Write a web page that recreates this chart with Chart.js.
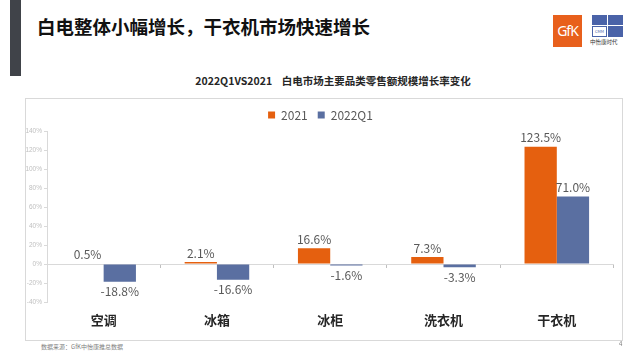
<!DOCTYPE html>
<html>
<head>
<meta charset="utf-8">
<script src="https://cdn.jsdelivr.net/npm/chart.js@4"></script>
<style>
  body { margin: 0; width: 641px; height: 361px; background: #fff; position: relative; overflow: hidden;
         font-family: "Noto Sans CJK SC", "Noto Sans", sans-serif; }
  .bar-left { position: absolute; left: 10px; top: 0; width: 11px; height: 76px; background: #404349; }
  .title { position: absolute; left: 37px; top: 13px; font-size: 18.5px; font-weight: bold; color: #111; white-space: nowrap; }
  .gfk { position: absolute; left: 553px; top: 15px; width: 29px; height: 32px; background: #e8601c; color: #fff;
         font: 14px "Noto Sans", sans-serif; line-height: 32px; text-align: center; letter-spacing: -1px; }
  .cmm { position: absolute; left: 592px; top: 15px; width: 31px; height: 22px; }
  .cmm div { position: absolute; background: #4a63a8; }
  .cmm-txt { position: absolute; left: 590px; top: 38px; font-size: 5.5px; color: #333; white-space: nowrap; }
  .sub { position: absolute; left: 0; width: 666px; top: 73px; text-align: center; font-size: 10.5px; font-weight: bold; color: #262626; white-space: pre; }
  .box { position: absolute; left: 25px; top: 98px; width: 596px; height: 241px; border: 1px solid #d9d9d9; }
  .src { position: absolute; left: 41px; top: 342px; font-size: 6px; color: #7f7f7f; white-space: nowrap; }
  .pg { position: absolute; left: 619px; top: 339px; font-size: 6px; color: #7f7f7f; }
</style>
</head>
<body>
<div class="bar-left"></div>
<div class="title">白电整体小幅增长，干衣机市场快速增长</div>
<div class="gfk">GfK</div>
<div class="cmm">
  <div style="left:0;top:0;width:15px;height:10px"></div>
  <div style="left:16px;top:0;width:15px;height:10px"></div>
  <div style="left:16px;top:11px;width:15px;height:11px"></div>
  <div style="left:0;top:11px;width:15px;height:11px;background:#fff;border:1px solid #4a63a8;box-sizing:border-box;font-size:4px;color:#4a63a8;line-height:9px;text-align:center">CMM</div>
</div>
<div class="cmm-txt">中怡康时代</div>
<div class="sub">2022Q1VS2021    白电市场主要品类零售额规模增长率变化</div>
<div class="box"><canvas id="c" width="596" height="241"></canvas></div>
<div class="src">数据来源：GfK中怡康推总数据</div>
<div class="pg">4</div>
<script>
// ==== 数据 ====
const categories = ['空调', '冰箱', '冰柜', '洗衣机', '干衣机'];
const growth2021 = [0.5, 2.1, 16.6, 7.3, 123.5];
const growth2022Q1 = [-18.8, -16.6, -1.6, -3.3, 71.0];
const yTicks = [-40, -20, 0, 20, 40, 60, 80, 100, 120, 140];

// ==== 数值标签 ====
const valueLabels = {
    id: 'valueLabels',
    afterDatasetsDraw(chart) {
        const ctx = chart.ctx;
        ctx.save();
        ctx.font = '12px "Noto Sans CJK SC", "Noto Sans", sans-serif';
        ctx.fillStyle = '#595959';
        ctx.textAlign = 'center';
        chart.data.datasets.forEach((ds, i) => {
            chart.getDatasetMeta(i).data.forEach((bar, j) => {
                const v = ds.data[j];
                const txt = v.toFixed(1) + '%';
                if (v >= 0) {
                    ctx.textBaseline = 'bottom';
                    ctx.fillText(txt, bar.x, bar.y - 3);
                } else {
                    ctx.textBaseline = 'top';
                    ctx.fillText(txt, bar.x, bar.y + 4);
                }
            });
        });
        ctx.restore();
    }
};

const ctx = document.getElementById('c').getContext('2d');
new Chart(ctx, {
    type: 'bar',
    data: {
        labels: categories,
        datasets: [
            { label: '2021', data: growth2021, backgroundColor: '#e5600f', barPercentage: 1, categoryPercentage: 0.57 },
            { label: '2022Q1', data: growth2022Q1, backgroundColor: '#5a6fa1', barPercentage: 1, categoryPercentage: 0.57 }
        ]
    },
    options: {
        responsive: false,
        animation: false,
        layout: { padding: { left: 0, right: 7, bottom: 38 } },
        plugins: {
            legend: {
                labels: {
                    boxWidth: 7, boxHeight: 7, padding: 10,
                    color: '#595959',
                    font: { size: 12, family: '"Noto Sans CJK SC", "Noto Sans", sans-serif' }
                }
            },
            tooltip: { enabled: false }
        },
        scales: {
            x: {
                position: { y: 0 },
                grid: { drawOnChartArea: false, tickLength: 3, color: '#bfbfbf' },
                border: { color: '#d9d9d9' },
                ticks: {
                    padding: 45,
                    color: '#262626',
                    font: { size: 13, weight: 'bold', family: '"Noto Sans CJK SC", sans-serif' }
                }
            },
            y: {
                min: -40, max: 140,
                afterFit(scale) { scale.width = 21; },
                afterBuildTicks(scale) { scale.ticks = yTicks.map(v => ({ value: v })); },
                grid: { drawOnChartArea: false, tickLength: 3, color: '#d9d9d9' },
                border: { color: '#d9d9d9' },
                ticks: {
                    padding: 2,
                    color: '#c0c0c0',
                    font: { size: 6.5 },
                    callback: v => v + '%'
                }
            }
        }
    },
    plugins: [valueLabels]
});
</script>
</body>
</html>
